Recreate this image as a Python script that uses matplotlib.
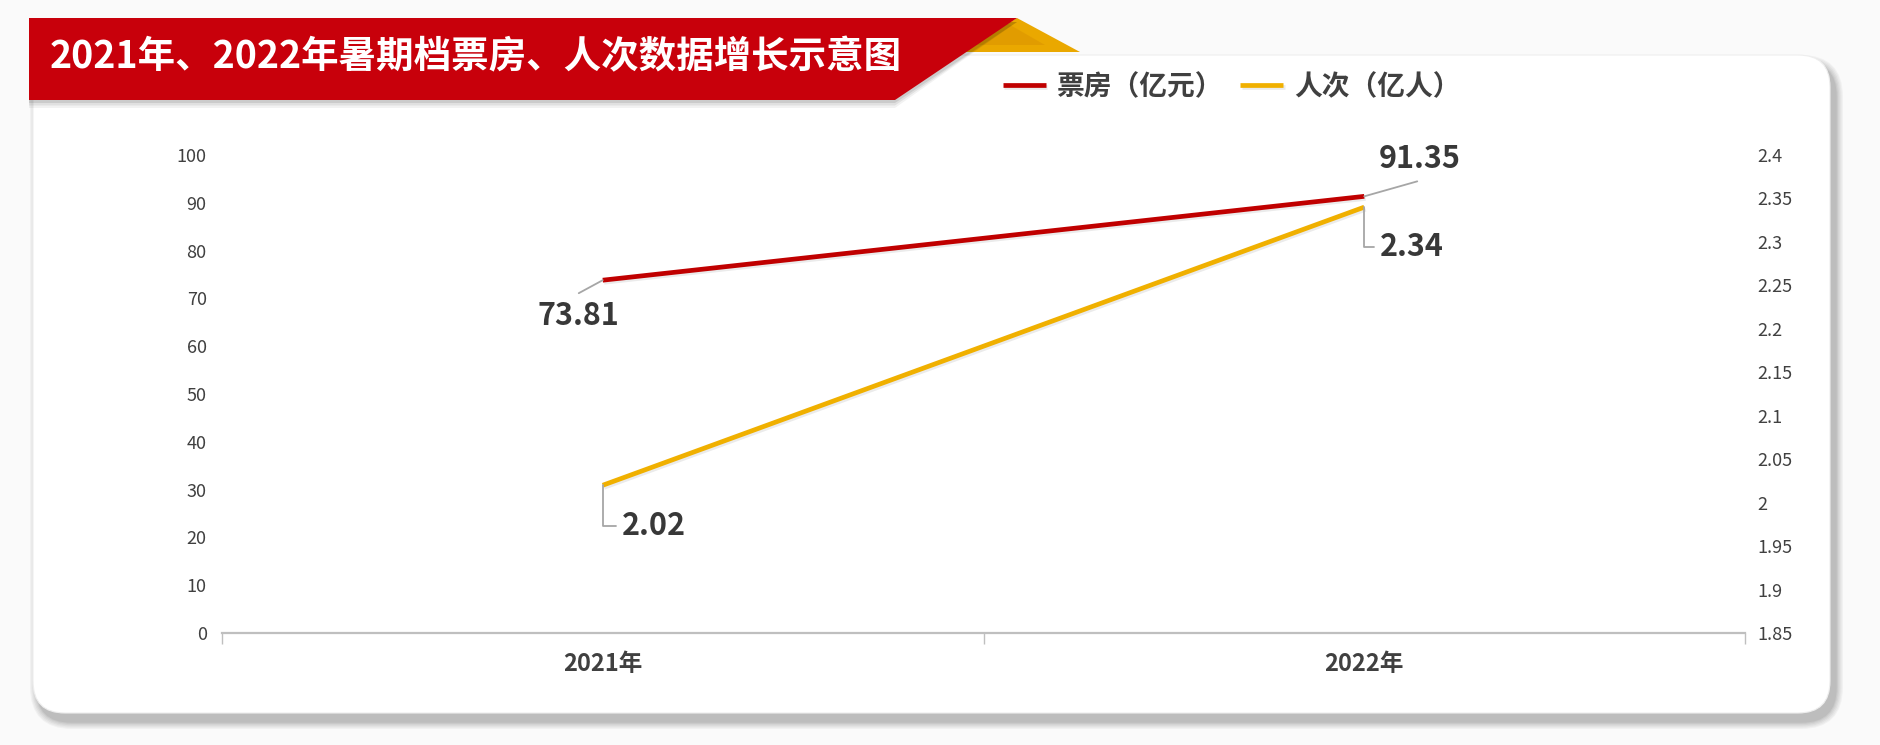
import matplotlib
matplotlib.use("Agg")
import matplotlib.pyplot as plt
import matplotlib.patheffects as pe
from matplotlib.patches import Polygon, FancyBboxPatch
from matplotlib.ticker import FixedLocator, FuncFormatter

plt.rcParams["font.family"] = ["Noto Sans CJK SC", "DejaVu Sans"]

# data
years = ["2021年", "2022年"]
box_office = [73.81, 91.35]      # 票房（亿元）
admissions = [2.02, 2.34]        # 人次（亿人）
left_ticks = list(range(0, 101, 10))
right_ticks = [1.85, 1.9, 1.95, 2.0, 2.05, 2.1, 2.15, 2.2, 2.25, 2.3, 2.35, 2.4]

TITLE = "2021年、2022年暑期档票房、人次数据增长示意图"
RED = "#c00000"
GOLD = "#f0b000"
TXT = "#404040"
W, H = 1880, 745
PX = 0.72  # points per pixel at dpi 100

fig = plt.figure(figsize=(W / 100, H / 100), dpi=100, facecolor="#fafafa")

# background decorations in pixel coordinates
bg = fig.add_axes([0, 0, 1, 1], zorder=0)
bg.set_xlim(0, W); bg.set_ylim(H, 0); bg.axis("off")

# card shadow + card
for i, a in enumerate([0.035, 0.035, 0.04, 0.045, 0.05, 0.06]):
    g = 16 - i * 2.5
    bg.add_patch(FancyBboxPatch((33 + 5 - g / 2, 55 + 8 - g / 2), 1797 + g, 658 + g,
                                boxstyle="round,pad=0,rounding_size=%d" % (34 + g / 2),
                                fc="#000000", ec="none", alpha=a))
bg.add_patch(FancyBboxPatch((33, 55), 1797, 658, boxstyle="round,pad=0,rounding_size=32",
                            fc="white", ec="#eeeeee", lw=0.8))

# banner
bg.add_patch(Polygon([(1017, 18), (1080, 52), (962, 52)], closed=True, fc="#eaa800", ec="none"))
bg.add_patch(Polygon([(1005, 22), (1045, 45), (975, 45)], closed=True, fc="#d99200", ec="none", alpha=0.5))
for k, a in enumerate([0.05, 0.07, 0.09]):
    d = 8 - k * 2.5
    bg.add_patch(Polygon([(29, 22), (1017, 22), (895, 100 + d), (29, 100 + d)],
                         closed=True, fc="black", ec="none", alpha=a))
bg.add_patch(Polygon([(29, 18), (1017, 18), (895, 100), (29, 100)], closed=True,
                     fc="#c8000b", ec="none"))
fig.text(50 / W, 1 - 57 / H, TITLE, color="white", fontsize=27, fontweight="bold",
         ha="left", va="center")

# chart
ax = fig.add_axes([222 / W, 1 - 633 / H, (1745 - 222) / W, (633 - 155) / H], zorder=2)
ax.patch.set_alpha(0)
ax2 = ax.twinx()
x = list(range(len(years)))

shadow = [pe.SimpleLineShadow(offset=(1, -1.5), alpha=0.08, shadow_color="black"), pe.Normal()]
l1, = ax.plot(x, box_office, color=RED, lw=3.4, solid_capstyle="butt", label="票房（亿元）",
              path_effects=shadow, zorder=3)
l2, = ax2.plot(x, admissions, color=GOLD, lw=3.4, solid_capstyle="butt", label="人次（亿人）",
               path_effects=shadow, zorder=3)

ax.set_xlim(-0.5, len(years) - 0.5)
ax.set_ylim(0, 100)
ax2.set_ylim(1.85, 2.4)
ax.yaxis.set_major_locator(FixedLocator(left_ticks))
ax2.yaxis.set_major_locator(FixedLocator(right_ticks))
ax2.yaxis.set_major_formatter(FuncFormatter(lambda v, p: f"{round(v, 2):g}"))

for a in (ax, ax2):
    for s in a.spines.values():
        s.set_visible(False)
ax.spines["bottom"].set_visible(True)
ax.spines["bottom"].set_color("#bfbfbf")
ax.spines["bottom"].set_linewidth(1.6)

ax.tick_params(axis="y", length=0, pad=11, labelsize=13, labelcolor=TXT)
ax2.tick_params(axis="y", length=0, pad=9, labelsize=13, labelcolor=TXT)
ax.set_xticks(x)
ax.set_xticklabels(years, fontsize=17, fontweight="bold", color=TXT)
ax.set_xticks([-0.5, 0.5, 1.5], minor=True)
ax.tick_params(axis="x", which="major", length=0, pad=14)
ax.tick_params(axis="x", which="minor", length=8, width=1, color="#bfbfbf")

# data labels with leader lines
lead = dict(arrowstyle="-", color="#a6a6a6", lw=1.3, shrinkA=0, shrinkB=0)
lab = dict(textcoords="offset points", ha="center", va="center", fontsize=22,
           fontweight="bold", color="#383838")

ax.annotate("", xy=(x[0], box_office[0]), xytext=(-24 * PX, -13 * PX),
            textcoords="offset points", arrowprops=lead)
ax.annotate(f"{box_office[0]:.2f}", xy=(x[0], box_office[0]), xytext=(-24 * PX, -36 * PX), **lab)

ax.annotate("", xy=(x[1], box_office[1]), xytext=(53 * PX, 15 * PX),
            textcoords="offset points", arrowprops=lead)
ax.annotate(f"{box_office[1]:.2f}", xy=(x[1], box_office[1]), xytext=(55 * PX, 37 * PX), **lab)

elbow = dict(lead, connectionstyle="angle,angleA=0,angleB=90,rad=0")
ax2.annotate("", xy=(x[0], admissions[0]), xytext=(13 * PX, -41 * PX),
             textcoords="offset points", arrowprops=elbow)
ax2.annotate(f"{admissions[0]:.2f}", xy=(x[0], admissions[0]), xytext=(51 * PX, -41 * PX), **lab)

ax2.annotate("", xy=(x[1], admissions[1]), xytext=(10 * PX, -40 * PX),
             textcoords="offset points", arrowprops=elbow)
ax2.annotate(f"{admissions[1]:.2f}", xy=(x[1], admissions[1]), xytext=(48 * PX, -40 * PX), **lab)

fig.legend(handles=[l1, l2], loc="center left", bbox_to_anchor=(1003 / W, 1 - 87 / H),
           ncol=2, frameon=False, borderpad=0, borderaxespad=0,
           handlelength=1.55, handletextpad=0.4, columnspacing=0.6,
           prop={"size": 20, "weight": "bold"}, labelcolor=TXT)

fig.savefig("out.png", dpi=100, facecolor=fig.get_facecolor())
